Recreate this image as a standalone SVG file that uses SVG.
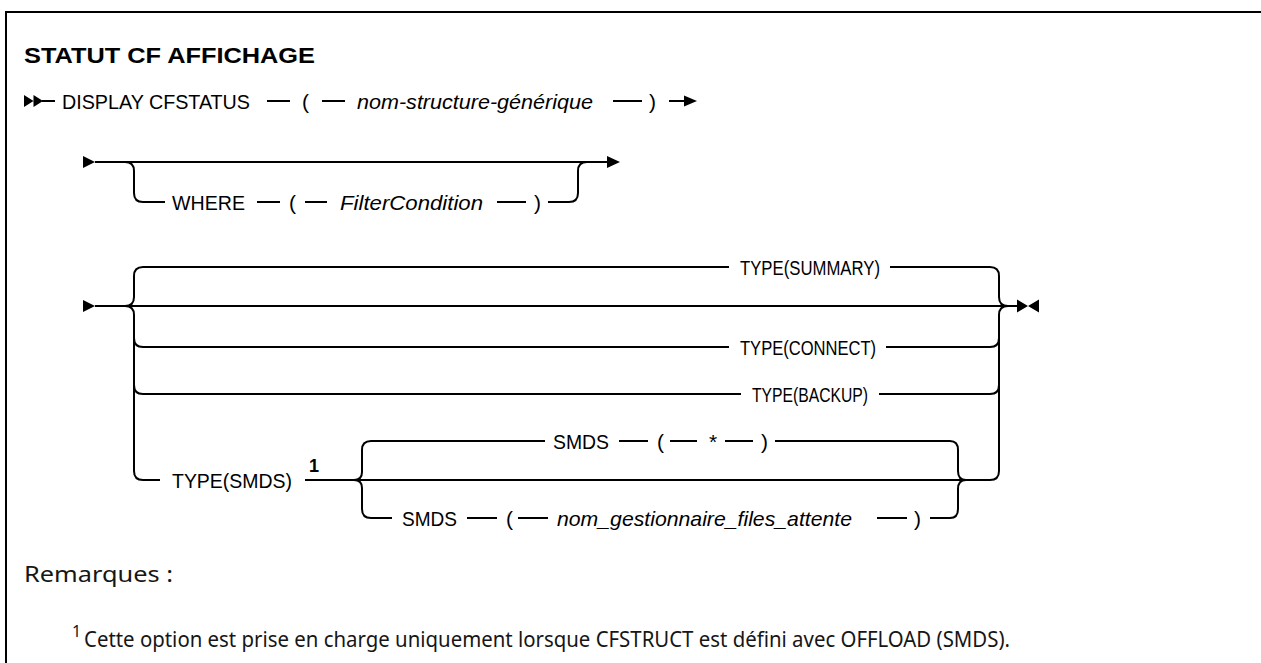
<svg xmlns="http://www.w3.org/2000/svg" width="1261" height="663" viewBox="0 0 1261 663">
<style>
.t{font-family:"Liberation Sans",Arial,sans-serif;font-size:21px;fill:#000}
.i{font-style:italic}
.h{font-family:"Liberation Sans",Arial,sans-serif;font-size:22.5px;font-weight:bold;fill:#000}
.s{font-family:"Liberation Sans",Arial,sans-serif;font-size:18px;font-weight:bold;fill:#000}
.n{font-family:"Noto Sans","Liberation Sans",Arial,sans-serif;font-size:22.5px;fill:#161616}
.ns{font-family:"Noto Sans","Liberation Sans",Arial,sans-serif;font-size:16px;fill:#161616}
.l{fill:none;stroke:#000;stroke-width:2}
.a{fill:#000;stroke:none}
</style>
<rect width="1261" height="663" fill="#fff"/>
<path d="M1261,12 H6 V663" fill="none" stroke="#000" stroke-width="2"/>
<text class="h" x="24" y="63" textLength="291" lengthAdjust="spacingAndGlyphs">STATUT CF AFFICHAGE</text>

<g id="connectors">
  <path class="a" d="M24,95 L33.5,101 L24,107 Z M33.5,95 L43,101 L33.5,107 Z"/>
  <path class="l" d="M42,101 H55 M267,101 H290 M322,101 H345 M613,101 H642 M669,101 H688"/>
  <path class="a" d="M684,95.5 L697,101 L684,106.5 Z"/>
  <path class="a" d="M83,156 L95,162 L83,168 Z"/>
  <path class="l" d="M95,162 H609"/>
  <path class="a" d="M607,156 L620,162 L607,168 Z"/>
  <path class="l" d="M125,162 Q134,162 134,171 V193 Q134,202 143,202 H165 M257,202 H280 M305,202 H327 M497,202 H526 M548,202 H569 Q578,202 578,193 V171 Q578,162 587,162"/>
  <path class="a" d="M83,300 L95,306 L83,312 Z"/>
  <path class="l" d="M95,306 H1017"/>
  <path class="a" d="M1017,299.5 L1028,306 L1017,312.5 Z M1039,299.5 L1028,306 L1039,312.5 Z"/>
  <path class="l" d="M125,306 Q134,306 134,297 V276 Q134,267 143,267 H729 M890,267 H990 Q999,267 999,276 V297 Q999,306 1008,306"/>
  <path class="l" d="M125,306 Q134,306 134,315 V471 Q134,480 143,480 H160"/>
  <path class="l" d="M134,338 Q134,347 143,347 H729 M886,347 H990 Q999,347 999,338 V315 Q999,306 1008,306"/>
  <path class="l" d="M134,385 Q134,394 143,394 H741 M879,394 H990 Q999,394 999,385"/>
  <path class="l" d="M999,315 V471 Q999,480 990,480 H305"/>
  <path class="l" d="M354,480 Q362,480 362,472 V450 Q362,441 371,441 H545 M619,441 H648 M670,441 H697 M725,441 H753 M775,441 H950 Q958,441 958,450 V471 Q958,480 966,480"/>
  <path class="l" d="M354,480 Q362,480 362,488 V509 Q362,518 371,518 H392 M467,518 H497 M518,518 H548 M877,518 H907 M930,518 H950 Q958,518 958,509 V489 Q958,480 966,480"/>
</g>

<g id="node-display">
  <text class="t" x="62" y="109" textLength="188" lengthAdjust="spacingAndGlyphs">DISPLAY CFSTATUS</text>
  <text class="t" x="302" y="109">(</text>
  <text class="t i" x="357" y="109" textLength="236" lengthAdjust="spacingAndGlyphs">nom-structure-générique</text>
  <text class="t" x="649" y="109">)</text>
</g>
<g id="node-where">
  <text class="t" x="172" y="210" textLength="73" lengthAdjust="spacingAndGlyphs">WHERE</text>
  <text class="t" x="289" y="210">(</text>
  <text class="t i" x="340" y="210" textLength="143" lengthAdjust="spacingAndGlyphs">FilterCondition</text>
  <text class="t" x="534" y="210">)</text>
</g>
<g id="node-type-summary">
  <text class="t" x="810" y="275" text-anchor="middle" textLength="140" lengthAdjust="spacingAndGlyphs">TYPE(SUMMARY)</text>
</g>
<g id="node-type-connect">
  <text class="t" x="808" y="355" text-anchor="middle" textLength="136" lengthAdjust="spacingAndGlyphs">TYPE(CONNECT)</text>
</g>
<g id="node-type-backup">
  <text class="t" x="810" y="402" text-anchor="middle" textLength="116" lengthAdjust="spacingAndGlyphs">TYPE(BACKUP)</text>
</g>
<g id="node-type-smds">
  <text class="t" x="172" y="488" textLength="120" lengthAdjust="spacingAndGlyphs">TYPE(SMDS)</text>
  <text class="s" x="309" y="472">1</text>
</g>
<g id="node-smds-star">
  <text class="t" x="553" y="449" textLength="56" lengthAdjust="spacingAndGlyphs">SMDS</text>
  <text class="t" x="657" y="449">(</text>
  <text class="t" x="709" y="449">*</text>
  <text class="t" x="761" y="449">)</text>
</g>
<g id="node-smds-qmgr">
  <text class="t" x="402" y="526" textLength="55" lengthAdjust="spacingAndGlyphs">SMDS</text>
  <text class="t" x="506" y="526">(</text>
  <text class="t i" x="557" y="526" textLength="295" lengthAdjust="spacingAndGlyphs">nom_gestionnaire_files_attente</text>
  <text class="t" x="914" y="526">)</text>
</g>
<g id="notes">
  <text class="n" x="24" y="582" textLength="149" lengthAdjust="spacingAndGlyphs">Remarques :</text>
  <text class="ns" x="72" y="637">1</text>
  <text class="n" x="84" y="647" textLength="926" lengthAdjust="spacingAndGlyphs">Cette option est prise en charge uniquement lorsque CFSTRUCT est défini avec OFFLOAD (SMDS).</text>
</g>
</svg>
